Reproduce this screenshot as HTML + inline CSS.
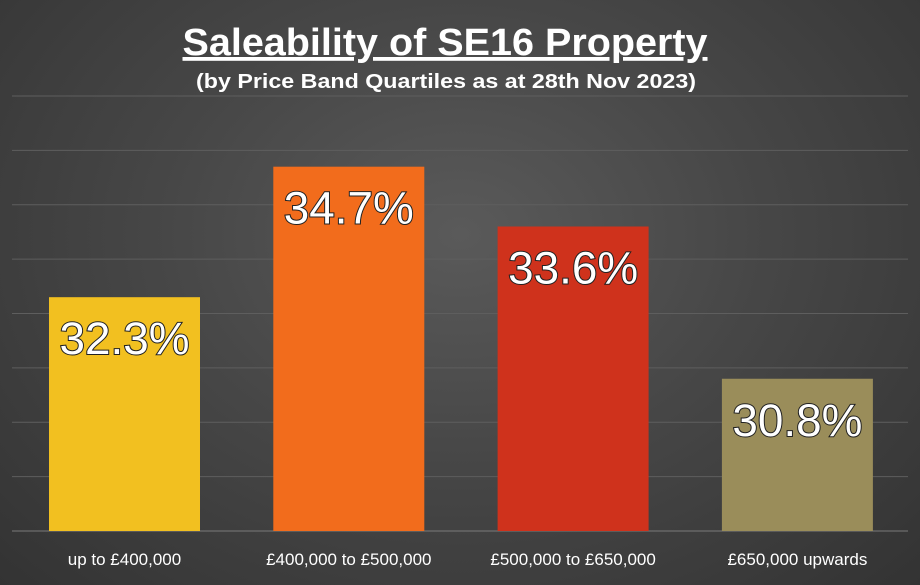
<!DOCTYPE html>
<html><head><meta charset="utf-8"><style>
html,body{margin:0;padding:0}
body{width:920px;height:585px;overflow:hidden;font-family:"Liberation Sans",sans-serif;
background:radial-gradient(ellipse at 50% 40%,#5a5a5a 0%,#474747 45%,#333 100%);}
svg{display:block}
</style></head><body>
<svg id="chart" width="920" height="585" xmlns="http://www.w3.org/2000/svg">
<text x="445" y="55" text-anchor="middle" fill="#fff" font-size="38" font-weight="bold" text-decoration="underline" textLength="525" lengthAdjust="spacingAndGlyphs">Saleability of SE16 Property</text>
<text x="446" y="88" text-anchor="middle" fill="#fff" font-size="20" font-weight="bold" textLength="500" lengthAdjust="spacingAndGlyphs">(by Price Band Quartiles as at 28th Nov 2023)</text>
<g id="grid"></g><g id="bars"></g><g id="labels"></g>
</svg>
<script>
const categories=["up to £400,000","£400,000 to £500,000","£500,000 to £650,000","£650,000 upwards"];
const values=[32.3,34.7,33.6,30.8];
const colors=["#F2C020","#F26C1C","#CF321C","#9A8D5A"];
const yTicks=[28,29,30,31,32,33,34,35,36];
const yMin=28,yMax=36,y0=531,y1=96;
function y(v){return y0-(v-yMin)/(yMax-yMin)*(y0-y1);}
function xLeft(i){return 49+i*224.3;}
const bw=151,ns="http://www.w3.org/2000/svg";
const g=document.getElementById('grid'),b=document.getElementById('bars'),l=document.getElementById('labels');
yTicks.forEach(t=>{const e=document.createElementNS(ns,'line');


e.setAttribute('x1',12);e.setAttribute('x2',908);e.setAttribute('y1',y(t));e.setAttribute('y2',y(t));
e.setAttribute('stroke',t===yMin?'#7a7a7a':'#5e5e5e');e.setAttribute('stroke-width',1);g.appendChild(e);});
values.forEach((v,i)=>{const r=document.createElementNS(ns,'rect');


r.setAttribute('x',xLeft(i));r.setAttribute('y',y(v));r.setAttribute('width',bw);r.setAttribute('height',y0-y(v));r.setAttribute('fill',colors[i]);b.appendChild(r);
const t=document.createElementNS(ns,'text');


t.setAttribute('x',xLeft(i)+bw/2);t.setAttribute('y',y(v)+57);t.setAttribute('text-anchor','middle');
t.setAttribute('font-size','45');t.setAttribute('fill','#fff');t.setAttribute('stroke','#222');t.setAttribute('stroke-width','2');t.setAttribute('paint-order','stroke');
t.setAttribute('textLength','130');t.setAttribute('lengthAdjust','spacingAndGlyphs');
t.textContent=v.toFixed(1)+'%';l.appendChild(t);
const c=document.createElementNS(ns,'text');


c.setAttribute('x',xLeft(i)+bw/2);c.setAttribute('y',565);c.setAttribute('text-anchor','middle');c.setAttribute('font-size','17');c.setAttribute('fill','#fff');
c.textContent=categories[i];l.appendChild(c);});
</script>
</body></html>
